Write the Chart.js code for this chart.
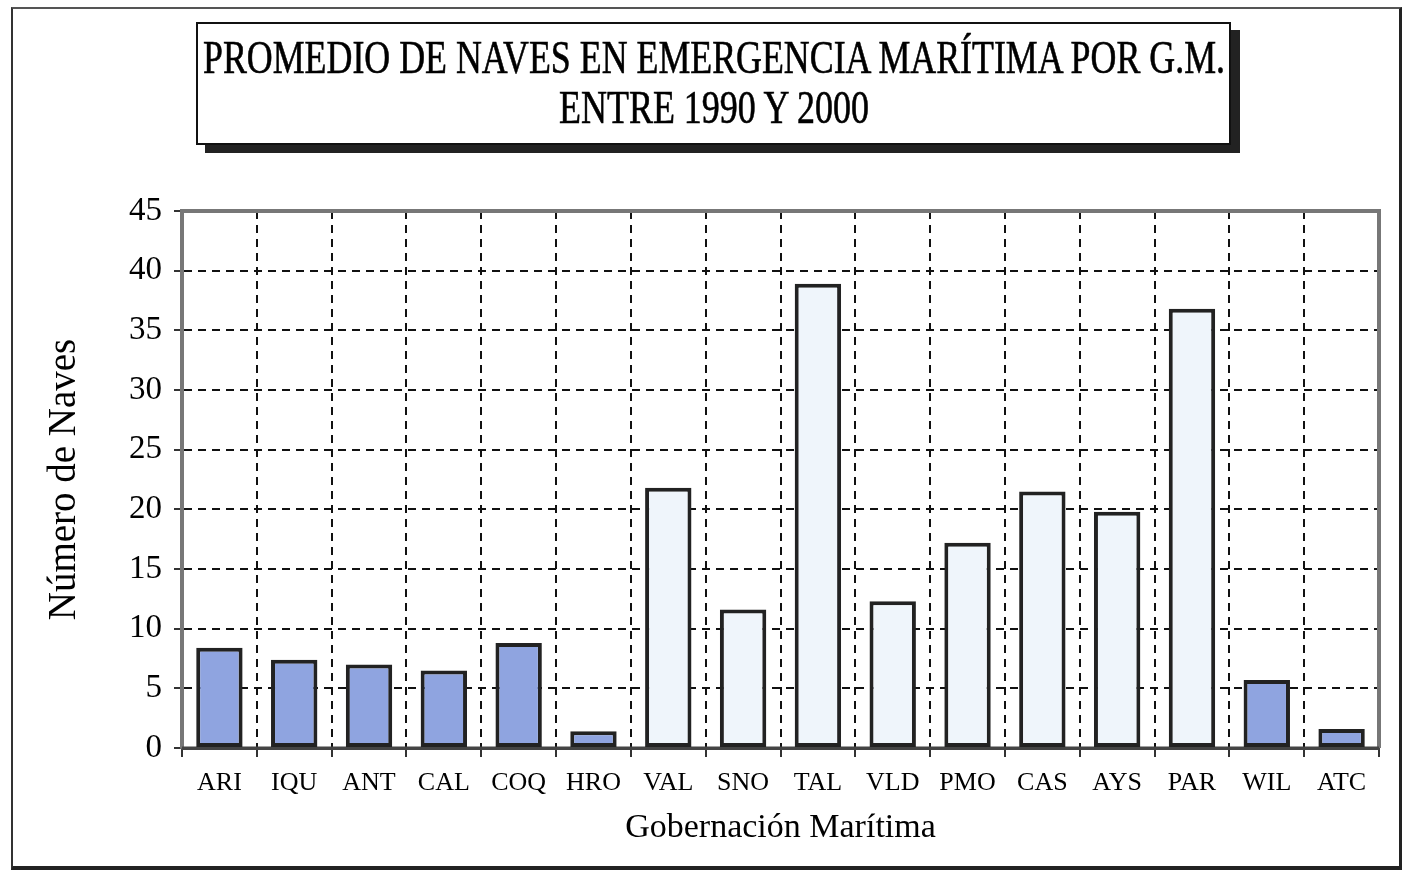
<!DOCTYPE html>
<html lang="es">
<head>
<meta charset="utf-8">
<title>Promedio de naves en emergencia marítima por G.M.</title>
<script src="https://cdn.jsdelivr.net/npm/chart.js@4.4.1/dist/chart.umd.min.js"></script>
<style>
  html, body { margin: 0; padding: 0; background: #fff; }
  #page { position: relative; width: 1403px; height: 871px; overflow: hidden; }
  #frame {
    position: absolute; left: 11px; top: 7px; width: 1386px; height: 857px;
    border-left: 2px solid #333; border-top: 2px solid #555;
    border-right: 3px solid #222; border-bottom: 4px solid #222;
  }
  #chart { position: absolute; left: 0; top: 0; }
  #titleBox {
    position: absolute; left: 196px; top: 22px; width: 1031px; height: 119px;
    border: 2px solid #111; background: #fff; box-shadow: 9px 8px 0 #222;
    font-family: "Liberation Serif", "Times New Roman", serif; color: #000;
  }
  #titleBox span {
    position: absolute; left: 50%; white-space: nowrap; font-size: 46px; line-height: 1;
    transform: translateX(-50%); transform-origin: center;
    -webkit-text-stroke: 0.6px #000;
  }
</style>
</head>
<body>
<div id="page">
  <div id="frame"></div>
  <canvas id="chart" width="1403" height="871"></canvas>
  <div id="titleBox">
    <span style="top: 11px;" data-w="1022">PROMEDIO DE NAVES EN EMERGENCIA MARÍTIMA POR G.M.</span>
    <span style="top: 61px;" data-w="310">ENTRE 1990 Y 2000</span>
  </div>
</div>
<script>
// Gobernaciones marítimas
const categories = ['ARI', 'IQU', 'ANT', 'CAL', 'COQ', 'HRO', 'VAL', 'SNO', 'TAL', 'VLD', 'PMO', 'CAS', 'AYS', 'PAR', 'WIL', 'ATC'];
// promedio de naves 1990-2000
const naves = [8.4, 7.4, 7.0, 6.5, 8.8, 1.4, 21.8, 11.6, 38.9, 12.3, 17.2, 21.5, 19.8, 36.8, 5.7, 1.6];
// true = barra azul, false = barra clara
const azul = [true, true, true, true, true, true, false, false, false, false, false, false, false, false, true, true];
const yTicks = [0, 5, 10, 15, 20, 25, 30, 35, 40, 45];

const serif = '"Liberation Serif", "Times New Roman", serif';

// marco del área de trazado: gris arriba/derecha/izquierda, oscuro abajo
const plotFrame = {
    id: 'plotFrame',
    beforeDatasetsDraw(chart) {
        const a = chart.chartArea;
        const ctx = chart.ctx;
        ctx.save();
        ctx.setLineDash([]);
        ctx.strokeStyle = '#777';
        ctx.lineWidth = 4;
        ctx.beginPath();
        ctx.moveTo(a.left, a.bottom);
        ctx.lineTo(a.left, a.top);
        ctx.lineTo(a.right, a.top);
        ctx.lineTo(a.right, a.bottom);
        ctx.stroke();
        ctx.strokeStyle = '#444';
        ctx.lineWidth = 3;
        ctx.beginPath();
        ctx.moveTo(a.left, a.bottom);
        ctx.lineTo(a.right, a.bottom);
        ctx.stroke();
        ctx.restore();
    }
};

function fitTitle() {
    document.querySelectorAll('#titleBox span').forEach(s => {
        const w = s.getBoundingClientRect().width;
        const target = Number(s.dataset.w);
        if (w > 0) s.style.transform = 'translateX(-50%) scaleX(' + (target / w) + ')';
    });
}

document.addEventListener('DOMContentLoaded', () => {
    if (document.fonts && document.fonts.ready) document.fonts.ready.then(fitTitle);
    else fitTitle();

    const ctx = document.getElementById('chart');
    if (ctx && window.Chart) {
        new Chart(ctx, {
            type: 'bar',
            data: {
                labels: categories,
                datasets: [{
                    label: 'Número de Naves',
                    data: naves,
                    backgroundColor: azul.map(b => b ? '#8fa4e0' : '#eff5fb'),
                    borderColor: '#222',
                    borderWidth: 4,
                    borderSkipped: false,
                    barPercentage: 0.62,
                    categoryPercentage: 1
                }]
            },
            options: {
                responsive: false,
                animation: false,
                layout: { padding: { top: 211, right: 24, left: 20, bottom: 8 } },
                plugins: { legend: { display: false }, tooltip: { enabled: false } },
                scales: {
                    x: {
                        afterFit(scale) { scale.height = 115; },
                        grid: {
                            offset: true,
                            color: '#111',
                            lineWidth: 2,
                            tickLength: 9,
                            tickColor: '#333',
                            tickWidth: 2
                        },
                        border: { color: '#444', width: 3, dash: [8, 6] },
                        ticks: {
                            color: '#000',
                            padding: 11,
                            maxRotation: 0,
                            font: { family: serif, size: 26 }
                        },
                        title: {
                            display: true,
                            text: 'Gobernación Marítima',
                            color: '#000',
                            font: { family: serif, size: 34 },
                            padding: { top: 0, bottom: 15 }
                        }
                    },
                    y: {
                        min: 0,
                        max: 45,
                        afterFit(scale) { scale.width = 162; },
                        afterBuildTicks(scale) { scale.ticks = yTicks.map(v => ({ value: v })); },
                        grid: {
                            color: '#111',
                            lineWidth: 2,
                            tickLength: 8,
                            tickColor: '#333',
                            tickWidth: 2
                        },
                        border: { color: '#666', width: 4, dash: [8, 6] },
                        ticks: {
                            color: '#000',
                            padding: 12,
                            font: { family: serif, size: 33 }
                        },
                        title: {
                            display: true,
                            text: 'Número de Naves',
                            color: '#000',
                            font: { family: serif, size: 39 },
                            padding: { top: 21, bottom: 0 }
                        }
                    }
                }
            },
            plugins: [plotFrame]
        });
    }
});
</script>
</body>
</html>
